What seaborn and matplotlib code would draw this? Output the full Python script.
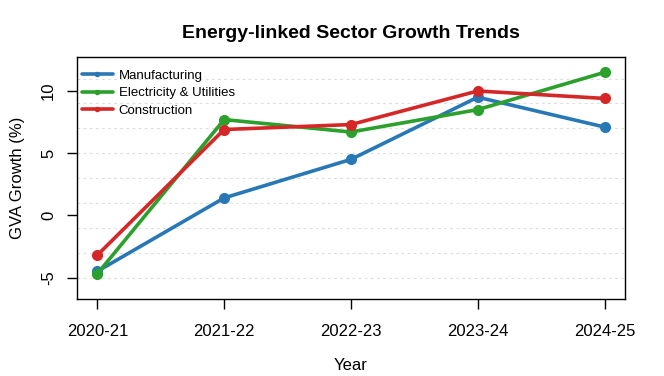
import numpy as np
import pandas as pd
import matplotlib.pyplot as plt
import seaborn as sns

# data
years = ["2020-21", "2021-22", "2022-23", "2023-24", "2024-25"]
manufacturing = [-4.5, 1.4, 4.5, 9.5, 7.1]
electricity = [-4.7, 7.7, 6.7, 8.5, 11.5]
construction = [-3.2, 6.9, 7.3, 10.0, 9.4]
sectors = ["Manufacturing", "Electricity & Utilities", "Construction"]
colors = ["#2878b5", "#2ca02c", "#d62728"]

df = pd.DataFrame({
    "Year": years * 3,
    "Growth": manufacturing + electricity + construction,
    "Sector": [s for s in sectors for _ in years],
})

sns.set_style("white")
plt.rcParams["font.family"] = ["Liberation Sans", "DejaVu Sans"]
plt.rcParams["text.color"] = "black"
plt.rcParams["axes.labelcolor"] = "black"

fig = plt.figure(figsize=(6.64, 3.76), dpi=100)
ax = fig.add_axes([0.116, 0.205, 0.825, 0.643])

# grid at odd values like the original
for g in np.arange(-5, 12, 2):
    ax.axhline(g, color="#dddddd", lw=0.8, ls=(0, (2.5, 3)), zorder=0)

sns.lineplot(data=df, x="Year", y="Growth", hue="Sector", palette=colors,
             marker="o", markersize=8, markeredgewidth=0, linewidth=2.6,
             sort=False, ax=ax)

ax.set_xlim(-0.16, 4.16)
ax.set_ylim(-6.72, 12.72)
ax.set_yticks([-5, 0, 5, 10])
ax.set_yticklabels(["-5", "0", "5", "10"], rotation=90, va="center")
ax.tick_params(axis="both", direction="out", length=7, width=1, labelsize=12,
               colors="black", left=True, bottom=True)
ax.tick_params(axis="x", pad=11)
ax.tick_params(axis="y", pad=8)
for sp in ax.spines.values():
    sp.set_color("black")
    sp.set_linewidth(1)

ax.set_xlabel("Year", fontsize=12, labelpad=14)
ax.set_ylabel("GVA Growth (%)", fontsize=12, labelpad=12)
ax.set_title("Energy-linked Sector Growth Trends", fontsize=14, fontweight="bold", pad=14)

handles, labels = ax.get_legend_handles_labels()
for h in handles:
    h.set_markersize(4)
    h.set_linewidth(2.6)
ax.legend(handles, labels, loc="upper left", frameon=False, fontsize=9.5,
          handlelength=2.3, handletextpad=0.45, labelspacing=0.4,
          borderaxespad=0.0, bbox_to_anchor=(0.0, 0.97))

fig.savefig("out.png", dpi=100)
